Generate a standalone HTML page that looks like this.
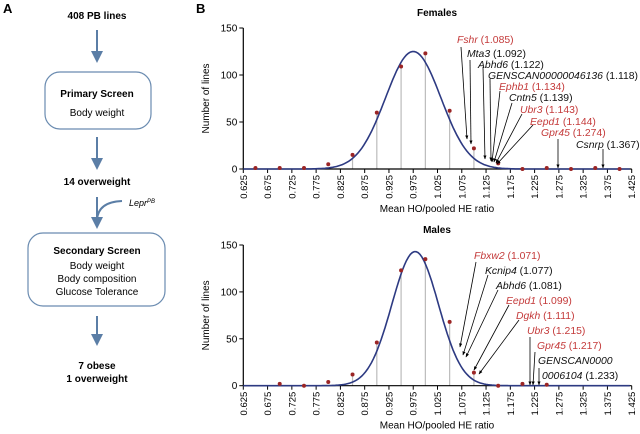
<!DOCTYPE html>
<html><head><meta charset="utf-8"><style>
body{margin:0;background:#fff;}
svg{display:block;font-family:"Liberation Sans",Arial,sans-serif;}
</style></head><body>
<svg id="s" width="640" height="434" viewBox="0 0 640 434" xmlns="http://www.w3.org/2000/svg">
<defs>
<marker id="ab" markerWidth="6" markerHeight="6" refX="5" refY="3" orient="auto"><path d="M0,0 L6,3 L0,6 z" fill="#5b7ea6"/></marker>
<marker id="ak" markerWidth="5" markerHeight="5" refX="4.5" refY="2.5" orient="auto"><path d="M0,0.5 L5,2.5 L0,4.5 z" fill="#000"/></marker>
</defs>
<text x="3" y="13" font-size="13" font-weight="bold">A</text>
<g font-size="10" text-anchor="middle">
<text x="97" y="19" font-weight="bold">408 PB lines</text>
<line x1="97" y1="30" x2="97" y2="61" stroke="#5b7ea6" stroke-width="2" marker-end="url(#ab)"/>
<rect x="45" y="72" width="106" height="57" rx="15" fill="none" stroke="#6a8bb0" stroke-width="1.2"/>
<text x="97" y="97" font-weight="bold">Primary Screen</text>
<text x="97" y="116">Body weight</text>
<line x1="97" y1="137" x2="97" y2="168" stroke="#5b7ea6" stroke-width="2" marker-end="url(#ab)"/>
<text x="97" y="185" font-weight="bold">14 overweight</text>
<line x1="97" y1="197" x2="97" y2="227" stroke="#5b7ea6" stroke-width="2" marker-end="url(#ab)"/>
<path d="M122,201 Q98,202 97,220" fill="none" stroke="#5b7ea6" stroke-width="2"/>
<text x="129" y="206" font-style="italic" text-anchor="start" font-size="9">Lepr<tspan font-size="6" dy="-3">PB</tspan></text>
<rect x="28" y="233" width="137" height="73" rx="15" fill="none" stroke="#6a8bb0" stroke-width="1.2"/>
<text x="97" y="254" font-weight="bold">Secondary Screen</text>
<text x="97" y="269">Body weight</text>
<text x="97" y="282">Body composition</text>
<text x="97" y="295">Glucose Tolerance</text>
<line x1="97" y1="316" x2="97" y2="344" stroke="#5b7ea6" stroke-width="2" marker-end="url(#ab)"/>
<text x="97" y="369" font-weight="bold">7 obese</text>
<text x="97" y="382" font-weight="bold">1 overweight</text>
</g>
<text x="196" y="13" font-size="13" font-weight="bold">B</text>
<g id="g"></g>
</svg>
<script>
var g=document.getElementById('g'),NS='http://www.w3.org/2000/svg';
function el(t,a,txt){var e=document.createElementNS(NS,t);for(var k in a)e.setAttribute(k,a[k]);if(txt!=null)e.innerHTML=txt;g.appendChild(e);return e;}
var X0=243.3,X1=631.7;
function px(v){return X0+(v-0.625)/0.8*(X1-X0);}
function panel(title,y0,ytop,pts,mu,sd,peak,ann){
 var py=function(v){return y0-(y0-ytop)*v/150;};
 el('text',{x:437,y:ytop-12,'font-size':10,'font-weight':'bold','text-anchor':'middle'},title);
 pts.forEach(function(p){if(p[1]>8)el('line',{x1:px(p[0]),y1:y0,x2:px(p[0]),y2:py(p[1]),stroke:'#bbb','stroke-width':1.2});});
 el('line',{x1:X0,y1:ytop,x2:X0,y2:y0,stroke:'#000','stroke-width':1.2});
 el('line',{x1:X0,y1:y0,x2:X1,y2:y0,stroke:'#000','stroke-width':1.2});
 [0,50,100,150].forEach(function(v){el('line',{x1:X0-4,y1:py(v),x2:X0,y2:py(v),stroke:'#000'});
  el('text',{x:X0-6,y:py(v)+3.5,'font-size':10,'text-anchor':'end'},v);});
 for(var i=0;i<=16;i++){var v=0.625+i*0.05,x=px(v);
  el('line',{x1:x,y1:y0,x2:x,y2:y0+4,stroke:'#000'});
  el('text',{x:0,y:0,'font-size':9.5,'text-anchor':'end',transform:'translate('+(x+3.5)+','+(y0+6)+') rotate(-90)'},v.toFixed(3));}
 el('text',{x:437,y:y0+43,'font-size':10,'text-anchor':'middle'},'Mean HO/pooled HE ratio');
 el('text',{x:0,y:0,'font-size':10,'text-anchor':'middle',transform:'translate(209,'+((y0+ytop)/2)+') rotate(-90)'},'Number of lines');
 var d='';for(var v=0.625;v<=1.425;v+=0.004){var y=peak*Math.exp(-Math.pow(v-mu,2)/(2*sd*sd));d+=(d?'L':'M')+px(v).toFixed(1)+','+py(y).toFixed(1);}
 el('path',{d:d,fill:'none',stroke:'#2d3a82','stroke-width':1.6});
 pts.forEach(function(p){el('circle',{cx:px(p[0]),cy:py(p[1]),r:2,fill:'#9b2525'});});
 ann.forEach(function(a){
  if(a[4]!==a[6]||a[5]!==a[7])el('line',{x1:a[4],y1:a[5],x2:a[6],y2:a[7],stroke:'#000','stroke-width':0.8,'marker-end':'url(#ak)'});
  var t=el('text',{x:a[1],y:a[2],'font-size':10.4,fill:a[3]?'#c43a3a':'#111'});
  t.innerHTML='<tspan font-style="italic">'+a[0]+'</tspan>'+(a[8]!=null?' '+a[8]:'');
 });
}
var R=1;
panel('Females',169,28,[[0.65,1],[0.70,1],[0.75,1],[0.80,5],[0.85,15],[0.90,60],[0.95,109],[1.00,123],[1.05,62],[1.10,22],[1.15,6],[1.20,0],[1.25,1],[1.30,0],[1.35,1],[1.40,0]],0.975,0.057,125,[
 ['Fshr',457,43,R,461,47,467,139,'(1.085)'],
 ['Mta3',467,57,0,470,60,471,144,'(1.092)'],
 ['Abhd6',478,68,0,483,67,485,159,'(1.122)'],
 ['GENSCAN00000046136',488,79,0,490,79,491,161,'(1.118)'],
 ['Ephb1',499,90,R,500,91,492,162,'(1.134)'],
 ['Cntn5',509,101,0,512,103,494,162,'(1.139)'],
 ['Ubr3',520,113,R,522,114,496,163,'(1.143)'],
 ['Eepd1',530,125,R,533,125,497,164,'(1.144)'],
 ['Gpr45',541,136,R,558,139,558,168,'(1.274)'],
 ['Csnrp',576,148,0,603,149,603,168,'(1.367)']]);
panel('Males',385.7,245,[[0.70,2],[0.75,0],[0.80,4],[0.85,12],[0.90,46],[0.95,123],[1.00,135],[1.05,68],[1.10,14],[1.15,0],[1.20,2],[1.25,1]],0.979,0.048,143,[
 ['Fbxw2',474,259,R,476,262,460,347,'(1.071)'],
 ['Kcnip4',485,274,0,488,275,463,355,'(1.077)'],
 ['Abhd6',496,289,0,498,290,466,357,'(1.081)'],
 ['Eepd1',506,304,R,509,305,474,370,'(1.099)'],
 ['Dgkh',516,319,R,519,320,479,374,'(1.111)'],
 ['Ubr3',527,334,R,530,337,530,385,'(1.215)'],
 ['Gpr45',537,349,R,535,352,533,385,'(1.217)'],
 ['GENSCAN0000',538,364,0,539,368,539,385,null],
 ['0006104',542,379,0,542,379,542,379,'(1.233)']]);
</script>
</body></html>
